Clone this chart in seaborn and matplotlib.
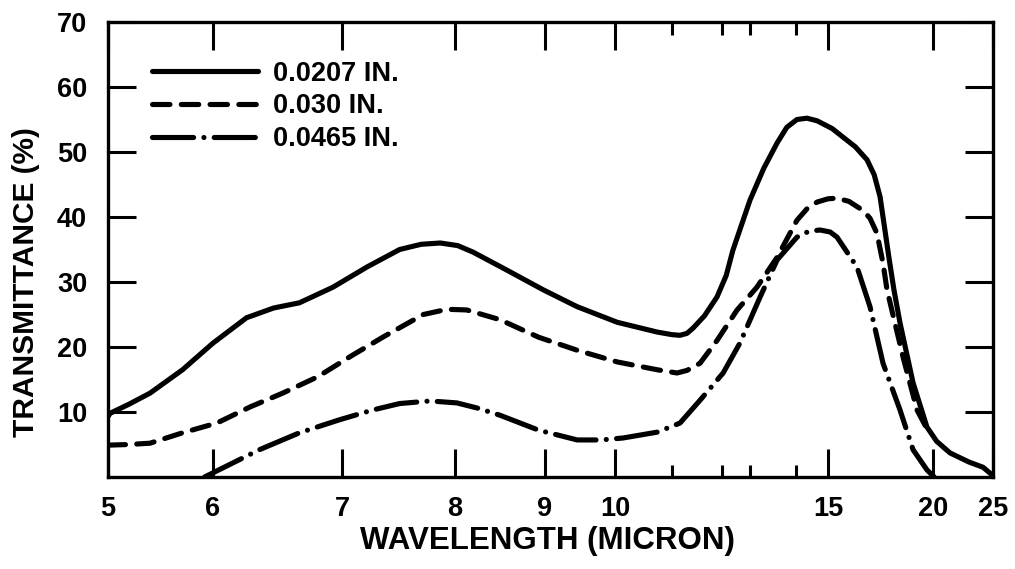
import numpy as np
import pandas as pd
import matplotlib
matplotlib.use("Agg")
import matplotlib.pyplot as plt
import seaborn as sns

# ---- data (wavelength in micron, transmittance in %) ----
wl_0207 = [5.00, 5.02, 5.20, 5.40, 5.71, 6.00, 6.26, 6.47, 6.67, 6.93, 7.22, 7.51, 7.70, 7.87,
           8.03, 8.20, 8.58, 8.98, 9.46, 10.04, 10.74, 11.00, 11.16, 11.30, 11.42, 11.65, 11.90,
           12.15, 12.39, 13.00, 13.30, 13.59, 13.80, 14.03, 14.34, 14.66, 15.20, 15.71, 16.30,
           16.86, 17.20, 17.48, 17.62, 17.90, 18.14, 18.43, 19.05, 19.71, 20.30, 21.42, 23.00,
           24.17, 25.00]
tr_0207 = [9.3, 9.8, 11.2, 12.9, 16.5, 20.6, 24.5, 26.0, 26.8, 29.2, 32.3, 35.0, 35.8, 36.0,
           35.6, 34.6, 31.8, 28.8, 26.2, 23.8, 22.3, 21.9, 21.8, 22.1, 22.9, 24.8, 27.7,
           31.0, 34.9, 42.6, 47.5, 51.4, 53.8, 55.0, 55.2, 54.8, 53.6, 52.3, 50.8,
           48.8, 46.5, 43.1, 40.0, 33.8, 28.8, 23.7, 14.5, 7.7, 5.5, 3.7, 2.3,
           1.5, 0.2]

wl_030 = [5.00, 5.20, 5.40, 5.71, 6.03, 6.29, 6.54, 6.81, 7.07, 7.36, 7.72, 7.93, 8.13,
          8.50, 8.93, 9.46, 10.04, 10.74, 11.10, 11.30, 11.56, 11.90, 12.54, 13.15, 13.59,
          14.03, 14.35, 14.66, 15.00, 15.43, 16.00, 16.67, 17.00, 17.33, 17.62, 17.81, 18.57,
          19.24, 19.86]
tr_030 = [4.9, 5.0, 5.2, 6.8, 8.3, 10.8, 12.9, 15.4, 18.5, 21.5, 25.0, 25.8, 25.7,
          24.2, 21.5, 19.5, 17.7, 16.5, 16.0, 16.4, 17.5, 21.0, 25.7, 29.2, 33.8,
          39.5, 41.3, 42.3, 42.8, 42.9, 42.4, 41.0, 39.8, 37.5, 32.9, 28.8, 18.5,
          10.3, 6.5]

wl_0465 = [5.92, 6.36, 6.67, 6.98, 7.27, 7.51, 7.78, 8.02, 8.25, 8.50, 8.93, 9.46, 9.80, 10.14,
           10.74, 11.16, 11.56, 12.04, 12.64, 13.22, 13.59, 14.03, 14.40, 14.75, 15.10, 15.43,
           16.38, 17.00, 17.62, 18.43, 19.05, 19.71, 20.10]
tr_0465 = [0.0, 4.2, 6.8, 8.8, 10.3, 11.3, 11.7, 11.4, 10.6, 9.5, 7.2, 5.7, 5.7, 6.0,
           6.9, 8.3, 11.8, 16.0, 20.6, 27.7, 33.4, 36.9, 37.8, 38.0, 37.7, 36.9,
           32.3, 26.2, 17.5, 10.3, 4.2, 1.1, 0.0]

series_labels = ["0.0207 IN.", "0.030 IN.", "0.0465 IN."]

x_major = [5, 6, 7, 8, 9, 10, 15, 20, 25]
x_minor = [11, 12, 13, 14]
y_ticks = [10, 20, 30, 40, 50, 60, 70]

# axis calibration of the original (non-uniform) wavelength scale
scale_wl = [5, 6, 7, 8, 9, 10, 11, 12, 13, 14, 15, 20, 25]
scale_pos = [108, 213, 342, 455, 545, 615, 672, 722, 750, 796, 828, 933, 993]

def fwd(x):
    return np.interp(x, scale_wl, scale_pos)

def inv(p):
    return np.interp(p, scale_pos, scale_wl)

# ---- style ----
sns.set_theme(style="ticks")
plt.rcParams["font.family"] = ["Liberation Sans", "DejaVu Sans"]
plt.rcParams["font.weight"] = "bold"
plt.rcParams["text.color"] = "black"
plt.rcParams["axes.labelcolor"] = "black"
plt.rcParams["xtick.color"] = "black"
plt.rcParams["ytick.color"] = "black"

fig = plt.figure(figsize=(10.15, 5.69), dpi=100)
ax = fig.add_axes([108 / 1015, 1 - 477 / 569, (993 - 108) / 1015, (477 - 22) / 569])
ax.set_xscale("function", functions=(fwd, inv))

lw = 3.7
df = pd.concat([
    pd.DataFrame({"wl": wl_0207, "tr": tr_0207, "s": series_labels[0]}),
    pd.DataFrame({"wl": wl_030, "tr": tr_030, "s": series_labels[1]}),
    pd.DataFrame({"wl": wl_0465, "tr": tr_0465, "s": series_labels[2]}),
])
styles = {
    series_labels[0]: "-",
    series_labels[1]: (0, (3.4, 2.2)),
    series_labels[2]: (0, (8.0, 2.0, 0.01, 2.0)),
}
for lab in series_labels:
    sub = df[df["s"] == lab]
    sns.lineplot(data=sub, x="wl", y="tr", ax=ax, color="black", lw=lw,
                 linestyle=styles[lab], sort=False, estimator=None,
                 label=lab, dash_capstyle="round", solid_capstyle="round",
                 solid_joinstyle="round")

ax.set_xlim(5, 25)
ax.set_ylim(0, 70)

ax.set_xticks(x_major)
ax.set_xticklabels([str(v) for v in x_major])
ax.set_xticks(x_minor, minor=True)
ax.set_yticks(y_ticks)
ax.set_yticklabels([str(v) for v in y_ticks])

ax.tick_params(axis="both", which="major", direction="in", length=20, width=2.2,
               top=True, right=True, labelsize=19.5, pad=14, color="black",
               labelcolor="black")
ax.tick_params(axis="x", which="minor", direction="in", length=9, width=2.2,
               top=True, bottom=True)
ax.tick_params(axis="y", which="major", pad=15)
for lbl in ax.get_xticklabels() + ax.get_yticklabels():
    lbl.set_fontweight("bold")

for sp in ax.spines.values():
    sp.set_visible(True)
    sp.set_linewidth(2.4)
    sp.set_color("black")

ax.set_xlabel("WAVELENGTH (MICRON)", fontsize=22.5, fontweight="bold", color="black")
ax.set_ylabel("TRANSMITTANCE (%)", fontsize=21.5, fontweight="bold", color="black")
ax.xaxis.set_label_coords((547 - 108) / 885, -(526 - 477) / 455)
ax.yaxis.set_label_coords((40 - 108) / 885, (477 - 282) / 455)

leg = ax.legend(loc="upper left", bbox_to_anchor=(0.05, 0.915), frameon=False,
                fontsize=19.5, handlelength=3.9, handletextpad=0.55,
                labelspacing=0.25, borderpad=0, borderaxespad=0)
for t in leg.get_texts():
    t.set_fontweight("bold")
    t.set_color("black")

fig.savefig("out.png", dpi=100, facecolor="white")
